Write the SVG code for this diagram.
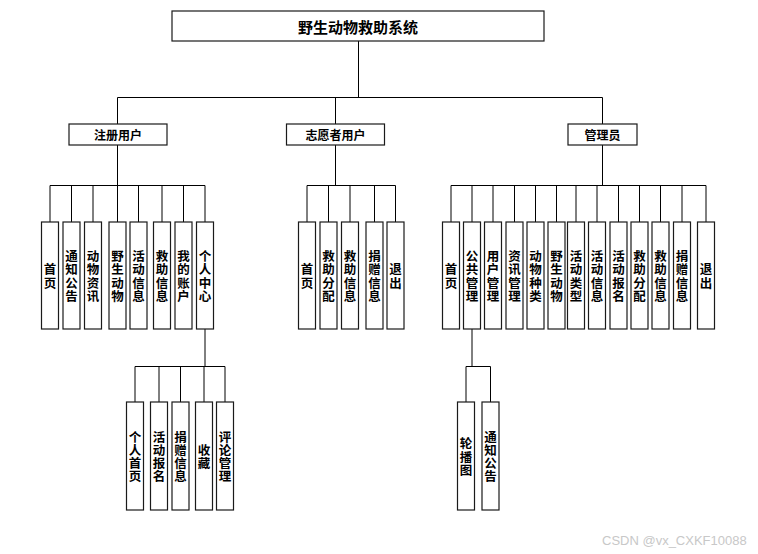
<svg xmlns="http://www.w3.org/2000/svg" width="758" height="554" viewBox="0 0 758 554">
<style>
.bx{fill:#fff;stroke:#1a1a1a;stroke-width:1.2}
.ln{fill:none;stroke:#000;stroke-width:1}
.t{font-family:"Noto Sans CJK SC","Noto Sans",sans-serif;font-weight:700;fill:#000;text-anchor:middle;dominant-baseline:central}
.h{font-size:12px}
.v{font-size:12.5px}
.ti{font-size:15px}
.wm{font-family:"Liberation Sans",Arial,sans-serif;font-size:13px;fill:#c8c8c8}
</style>
<rect width="758" height="554" fill="#fff"/>
<g id="connectors" class="ln">
<path d="M358.5 41V97.5M117.5 97.5H602.5M117.5 97.5V124M335.5 97.5V124M602.5 97.5V124"/>
<path d="M117.5 145V185.5M50 185.5H205M50 185.5V222M71.5 185.5V222M93 185.5V222M117.5 185.5V222M138.5 185.5V222M162 185.5V222M183.5 185.5V222M205 185.5V222"/>
<path d="M335.5 145V185.5M307 185.5H395.5M307 185.5V222M328.5 185.5V222M350 185.5V222M374.5 185.5V222M395.5 185.5V222"/>
<path d="M602.5 145V185.5M451 185.5H706M451 185.5V222M472 185.5V222M493 185.5V222M514.5 185.5V222M535.5 185.5V222M556.5 185.5V222M576 185.5V222M597 185.5V222M618.5 185.5V222M639.5 185.5V222M660.5 185.5V222M682 185.5V222M706 185.5V222"/>
<path d="M205 329V366.5M135 366.5H225M135 366.5V402M159 366.5V402M180.5 366.5V402M204 366.5V402M225 366.5V402"/>
<path d="M472 329V366.5M466 366.5H490.5M466 366.5V402M490.5 366.5V402"/>
</g>
<g id="root"><rect class="bx" x="172" y="11" width="372" height="30"/><text class="t ti" x="358" y="26">野生动物救助系统</text></g>
<g id="reg"><rect class="bx" x="69" y="124" width="98" height="21"/><text class="t h" x="118" y="134.5">注册用户</text></g>
<g id="vol"><rect class="bx" x="286.5" y="124" width="98" height="21"/><text class="t h" x="335.5" y="134.5">志愿者用户</text></g>
<g id="adm"><rect class="bx" x="568" y="124" width="69" height="21"/><text class="t h" x="602.5" y="134.5">管理员</text></g>

<g id="r1"><rect class="bx" x="41.5" y="222" width="17" height="107"/><text class="t v" x="50 50" y="268.9 282.1">首页</text></g>
<g id="r2"><rect class="bx" x="63" y="222" width="17" height="107"/><text class="t v" x="71.5 71.5 71.5 71.5" y="255.7 268.9 282.1 295.3">通知公告</text></g>
<g id="r3"><rect class="bx" x="84.5" y="222" width="17" height="107"/><text class="t v" x="93 93 93 93" y="255.7 268.9 282.1 295.3">动物资讯</text></g>
<g id="r4"><rect class="bx" x="109" y="222" width="17" height="107"/><text class="t v" x="117.5 117.5 117.5 117.5" y="255.7 268.9 282.1 295.3">野生动物</text></g>
<g id="r5"><rect class="bx" x="130" y="222" width="17" height="107"/><text class="t v" x="138.5 138.5 138.5 138.5" y="255.7 268.9 282.1 295.3">活动信息</text></g>
<g id="r6"><rect class="bx" x="153.5" y="222" width="17" height="107"/><text class="t v" x="162 162 162 162" y="255.7 268.9 282.1 295.3">救助信息</text></g>
<g id="r7"><rect class="bx" x="175" y="222" width="17" height="107"/><text class="t v" x="183.5 183.5 183.5 183.5" y="255.7 268.9 282.1 295.3">我的账户</text></g>
<g id="r8"><rect class="bx" x="196.5" y="222" width="17" height="107"/><text class="t v" x="205 205 205 205" y="255.7 268.9 282.1 295.3">个人中心</text></g>

<g id="v1"><rect class="bx" x="298.5" y="222" width="17" height="107"/><text class="t v" x="307 307" y="268.9 282.1">首页</text></g>
<g id="v2"><rect class="bx" x="320" y="222" width="17" height="107"/><text class="t v" x="328.5 328.5 328.5 328.5" y="255.7 268.9 282.1 295.3">救助分配</text></g>
<g id="v3"><rect class="bx" x="341.5" y="222" width="17" height="107"/><text class="t v" x="350 350 350 350" y="255.7 268.9 282.1 295.3">救助信息</text></g>
<g id="v4"><rect class="bx" x="366" y="222" width="17" height="107"/><text class="t v" x="374.5 374.5 374.5 374.5" y="255.7 268.9 282.1 295.3">捐赠信息</text></g>
<g id="v5"><rect class="bx" x="387" y="222" width="17" height="107"/><text class="t v" x="395.5 395.5" y="268.9 282.1">退出</text></g>

<g id="a1"><rect class="bx" x="442.5" y="222" width="17" height="107"/><text class="t v" x="451 451" y="268.9 282.1">首页</text></g>
<g id="a2"><rect class="bx" x="463.5" y="222" width="17" height="107"/><text class="t v" x="472 472 472 472" y="255.7 268.9 282.1 295.3">公共管理</text></g>
<g id="a3"><rect class="bx" x="484.5" y="222" width="17" height="107"/><text class="t v" x="493 493 493 493" y="255.7 268.9 282.1 295.3">用户管理</text></g>
<g id="a4"><rect class="bx" x="506" y="222" width="17" height="107"/><text class="t v" x="514.5 514.5 514.5 514.5" y="255.7 268.9 282.1 295.3">资讯管理</text></g>
<g id="a5"><rect class="bx" x="527" y="222" width="17" height="107"/><text class="t v" x="535.5 535.5 535.5 535.5" y="255.7 268.9 282.1 295.3">动物种类</text></g>
<g id="a6"><rect class="bx" x="548" y="222" width="17" height="107"/><text class="t v" x="556.5 556.5 556.5 556.5" y="255.7 268.9 282.1 295.3">野生动物</text></g>
<g id="a7"><rect class="bx" x="567.5" y="222" width="17" height="107"/><text class="t v" x="576 576 576 576" y="255.7 268.9 282.1 295.3">活动类型</text></g>
<g id="a8"><rect class="bx" x="588.5" y="222" width="17" height="107"/><text class="t v" x="597 597 597 597" y="255.7 268.9 282.1 295.3">活动信息</text></g>
<g id="a9"><rect class="bx" x="610" y="222" width="17" height="107"/><text class="t v" x="618.5 618.5 618.5 618.5" y="255.7 268.9 282.1 295.3">活动报名</text></g>
<g id="a10"><rect class="bx" x="631" y="222" width="17" height="107"/><text class="t v" x="639.5 639.5 639.5 639.5" y="255.7 268.9 282.1 295.3">救助分配</text></g>
<g id="a11"><rect class="bx" x="652" y="222" width="17" height="107"/><text class="t v" x="660.5 660.5 660.5 660.5" y="255.7 268.9 282.1 295.3">救助信息</text></g>
<g id="a12"><rect class="bx" x="673.5" y="222" width="17" height="107"/><text class="t v" x="682 682 682 682" y="255.7 268.9 282.1 295.3">捐赠信息</text></g>
<g id="a13"><rect class="bx" x="697.5" y="222" width="17" height="107"/><text class="t v" x="706 706" y="268.9 282.1">退出</text></g>

<g id="p1"><rect class="bx" x="126.5" y="402" width="17" height="108"/><text class="t v" x="135 135 135 135" y="436.2 449.4 462.6 475.8">个人首页</text></g>
<g id="p2"><rect class="bx" x="150.5" y="402" width="17" height="108"/><text class="t v" x="159 159 159 159" y="436.2 449.4 462.6 475.8">活动报名</text></g>
<g id="p3"><rect class="bx" x="172" y="402" width="17" height="108"/><text class="t v" x="180.5 180.5 180.5 180.5" y="436.2 449.4 462.6 475.8">捐赠信息</text></g>
<g id="p4"><rect class="bx" x="195.5" y="402" width="17" height="108"/><text class="t v" x="204 204" y="449.4 462.6">收藏</text></g>
<g id="p5"><rect class="bx" x="216.5" y="402" width="17" height="108"/><text class="t v" x="225 225 225 225" y="436.2 449.4 462.6 475.8">评论管理</text></g>

<g id="g1"><rect class="bx" x="457.5" y="402" width="17" height="108"/><text class="t v" x="466 466 466" y="442.8 456 469.2">轮播图</text></g>
<g id="g2"><rect class="bx" x="482" y="402" width="17" height="108"/><text class="t v" x="490.5 490.5 490.5 490.5" y="436.2 449.4 462.6 475.8">通知公告</text></g>

<text class="wm" x="602" y="545">CSDN @vx_CXKF10088</text>
</svg>
